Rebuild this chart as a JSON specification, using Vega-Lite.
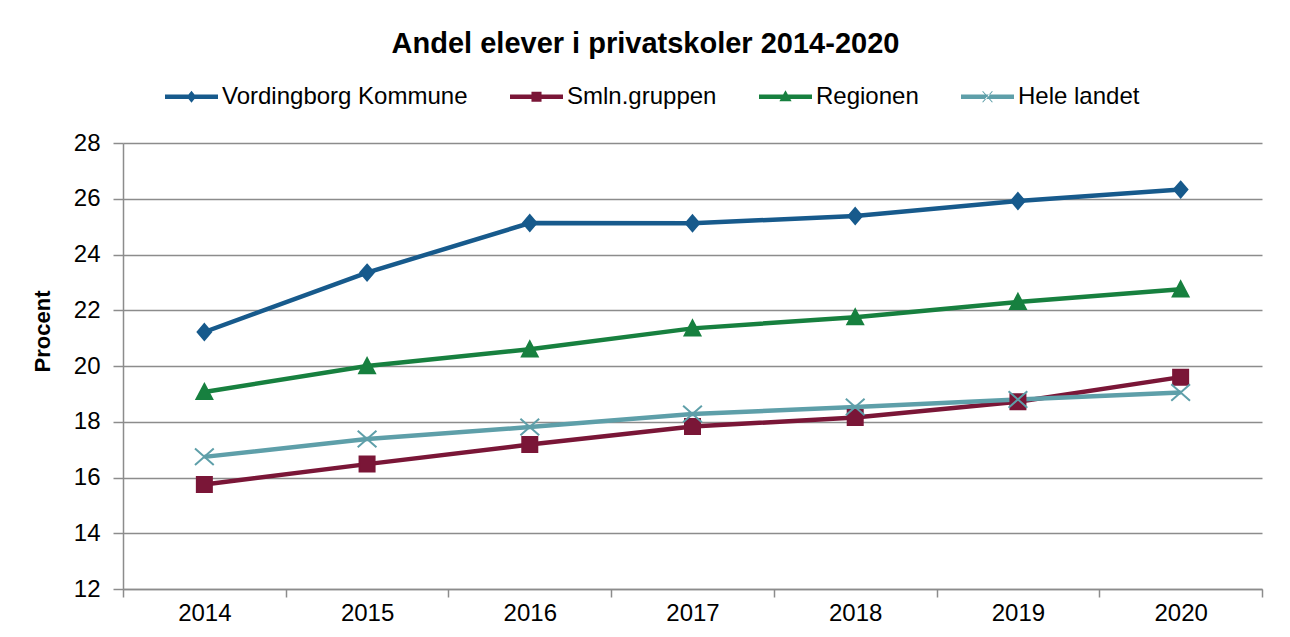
{
  "$schema": "https://vega.github.io/schema/vega-lite/v6.json",
  "width": 1139,
  "height": 446,
  "autosize": {"type": "none"},
  "padding": {"left": 123, "top": 143, "right": 28, "bottom": 48},
  "background": "white",
  "config": {"view": {"stroke": null}, "font": "Liberation Sans"},
  "title": {
    "text": "Andel elever i privatskoler 2014-2020",
    "font": "Liberation Sans",
    "fontSize": 29,
    "fontWeight": "bold",
    "color": "#000000",
    "anchor": "middle",
    "frame": "group",
    "dx": -47,
    "offset": 11
  },
  "data": {
    "values": [
      {"year": "2014", "serie": "Vordingborg Kommune", "value": 21.22},
      {"year": "2015", "serie": "Vordingborg Kommune", "value": 23.35},
      {"year": "2016", "serie": "Vordingborg Kommune", "value": 25.13},
      {"year": "2017", "serie": "Vordingborg Kommune", "value": 25.12},
      {"year": "2018", "serie": "Vordingborg Kommune", "value": 25.38},
      {"year": "2019", "serie": "Vordingborg Kommune", "value": 25.92},
      {"year": "2020", "serie": "Vordingborg Kommune", "value": 26.33},
      {"year": "2014", "serie": "Smln.gruppen", "value": 15.75},
      {"year": "2015", "serie": "Smln.gruppen", "value": 16.48},
      {"year": "2016", "serie": "Smln.gruppen", "value": 17.18},
      {"year": "2017", "serie": "Smln.gruppen", "value": 17.83},
      {"year": "2018", "serie": "Smln.gruppen", "value": 18.15},
      {"year": "2019", "serie": "Smln.gruppen", "value": 18.72},
      {"year": "2020", "serie": "Smln.gruppen", "value": 19.6},
      {"year": "2014", "serie": "Regionen", "value": 19.07},
      {"year": "2015", "serie": "Regionen", "value": 20.0},
      {"year": "2016", "serie": "Regionen", "value": 20.6},
      {"year": "2017", "serie": "Regionen", "value": 21.35},
      {"year": "2018", "serie": "Regionen", "value": 21.75},
      {"year": "2019", "serie": "Regionen", "value": 22.3},
      {"year": "2020", "serie": "Regionen", "value": 22.75},
      {"year": "2014", "serie": "Hele landet", "value": 16.74},
      {"year": "2015", "serie": "Hele landet", "value": 17.38},
      {"year": "2016", "serie": "Hele landet", "value": 17.81},
      {"year": "2017", "serie": "Hele landet", "value": 18.28},
      {"year": "2018", "serie": "Hele landet", "value": 18.53},
      {"year": "2019", "serie": "Hele landet", "value": 18.8},
      {"year": "2020", "serie": "Hele landet", "value": 19.05}
    ]
  },
  "encoding": {
    "x": {
      "field": "year",
      "type": "ordinal",
      "scale": {"paddingInner": 0, "paddingOuter": 0},
      "axis": {
        "title": null,
        "labelAngle": 0,
        "labelFont": "Liberation Sans",
        "labelFontSize": 24,
        "labelColor": "#000000",
        "labelPadding": 4,
        "tickBand": "extent",
        "tickSize": 8,
        "tickColor": "#8c8c8c",
        "tickWidth": 1.5,
        "domainColor": "#8c8c8c",
        "domainWidth": 1.5,
        "grid": false
      }
    },
    "y": {
      "field": "value",
      "type": "quantitative",
      "scale": {"domain": [12, 28], "nice": false, "zero": false},
      "axis": {
        "title": "Procent",
        "titleFont": "Liberation Sans",
        "titleFontSize": 22,
        "titleFontWeight": "bold",
        "titleColor": "#000000",
        "titleX": -74,
        "titleY": 188,
        "titleAngle": -90,
        "titleAlign": "center",
        "titleBaseline": "alphabetic",
        "values": [12, 14, 16, 18, 20, 22, 24, 26, 28],
        "labelFont": "Liberation Sans",
        "labelFontSize": 24,
        "labelColor": "#000000",
        "labelPadding": 13,
        "tickSize": 10,
        "tickColor": "#8c8c8c",
        "tickWidth": 1.5,
        "domainColor": "#8c8c8c",
        "domainWidth": 1.5,
        "grid": true,
        "gridColor": "#8c8c8c",
        "gridWidth": 1.5
      }
    },
    "color": {
      "field": "serie",
      "type": "nominal",
      "scale": {
        "domain": ["Vordingborg Kommune", "Smln.gruppen", "Regionen", "Hele landet"],
        "range": ["#175A8C", "#7A1637", "#17803F", "#5E9FA9"]
      },
      "legend": {
        "orient": "none",
        "legendX": 42,
        "legendY": -73,
        "direction": "horizontal",
        "title": null,
        "labelFont": "Liberation Sans",
        "labelFontSize": 24,
        "labelColor": "#000000",
        "labelOffset": 4,
        "labelLimit": 0,
        "symbolSize": 2809,
        "symbolStrokeWidth": 0,
        "symbolOpacity": 1,
        "columnPadding": 42
      }
    }
  },
  "layer": [
    {
      "mark": {"type": "line", "strokeWidth": 4.5}
    },
    {
      "transform": [{"filter": "datum.serie === 'Vordingborg Kommune'"}],
      "mark": {"type": "point", "filled": true, "size": 225, "strokeWidth": 2, "opacity": 1, "stroke": "#175A8C", "shape": "M0,-1.05L0.9,0L0,1.05L-0.9,0Z"}
    },
    {
      "transform": [{"filter": "datum.serie === 'Smln.gruppen'"}],
      "mark": {"type": "point", "filled": true, "size": 225, "strokeWidth": 2, "opacity": 1, "stroke": "#7A1637", "shape": "M-1,-1H1V1H-1Z"}
    },
    {
      "transform": [{"filter": "datum.serie === 'Regionen'"}],
      "mark": {"type": "point", "filled": true, "size": 225, "strokeWidth": 2, "opacity": 1, "stroke": "#17803F", "shape": "M0,-1.05L1.05,0.95L-1.05,0.95Z"}
    },
    {
      "transform": [{"filter": "datum.serie === 'Hele landet'"}],
      "mark": {"type": "point", "filled": true, "size": 225, "strokeWidth": 2, "opacity": 1, "stroke": "#5E9FA9", "shape": "M-1.25,-1.1L1.25,1.1M1.25,-1.1L-1.25,1.1"}
    },
    {
      "transform": [{"filter": "false"}],
      "mark": {"type": "point", "filled": true, "opacity": 1},
      "encoding": {
        "shape": {
          "field": "serie",
          "type": "nominal",
          "scale": {
            "domain": ["Vordingborg Kommune", "Smln.gruppen", "Regionen", "Hele landet"],
            "range": [
              "M-1,-0.085H1V0.085H-1Z M0,-0.23L0.18,0L0,0.23L-0.18,0Z",
              "M-1,-0.085H1V0.085H-1Z M-0.19,-0.19H0.19V0.19H-0.19Z",
              "M-1,-0.085H1V0.085H-1Z M0,-0.25L0.23,0.17H-0.23Z",
              "M-1,-0.085H1V0.085H-1Z M-0.2,-0.2L-0.17,-0.22L0.2,0.2L0.17,0.22Z M0.2,-0.2L0.17,-0.22L-0.2,0.2L-0.17,0.22Z"
            ]
          },
          "legend": {
            "orient": "none",
            "legendX": 42,
            "legendY": -73,
            "direction": "horizontal",
            "title": null,
            "labelFont": "Liberation Sans",
            "labelFontSize": 24,
            "labelColor": "#000000",
            "labelOffset": 4,
            "labelLimit": 0,
            "symbolSize": 2809,
            "symbolStrokeWidth": 0,
            "symbolOpacity": 1,
            "columnPadding": 42
          }
        }
      }
    }
  ]
}
